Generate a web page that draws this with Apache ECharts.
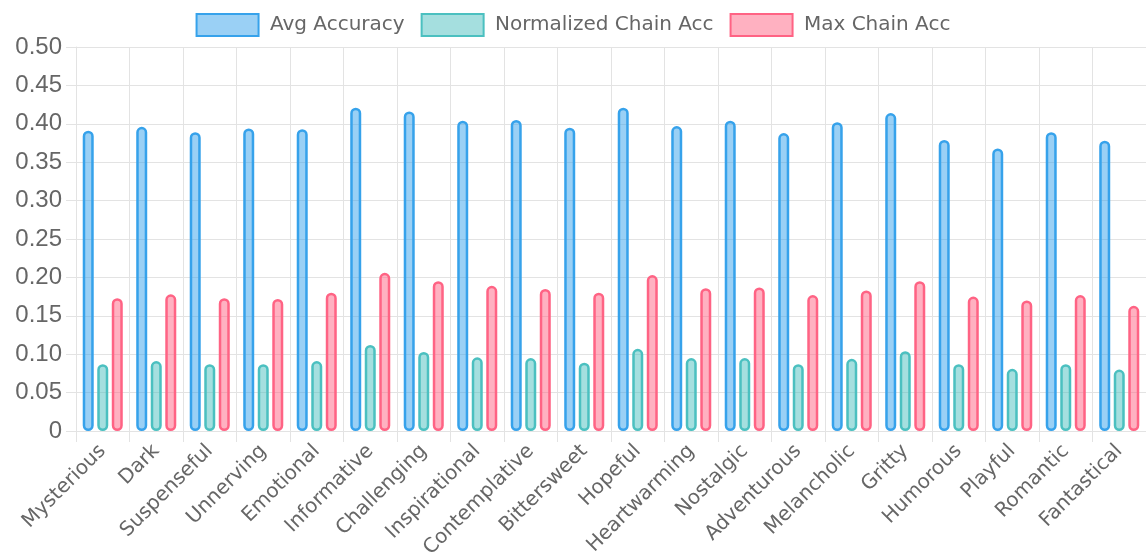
<!DOCTYPE html>
<html>
<head>
<meta charset="utf-8">
<script src="https://cdn.jsdelivr.net/npm/echarts@6/dist/echarts.min.js"></script>
<style>
html,body{margin:0;padding:0;background:#fff;}
#chart{width:1146px;height:559px;}
</style>
</head>
<body>
<div id="chart"></div>
<script>
var categories = ["Mysterious","Dark","Suspenseful","Unnerving","Emotional","Informative","Challenging","Inspirational","Contemplative","Bittersweet","Hopeful","Heartwarming","Nostalgic","Adventurous","Melancholic","Gritty","Humorous","Playful","Romantic","Fantastical"];
var avgAccuracy = [0.391,0.396,0.389,0.394,0.393,0.421,0.416,0.404,0.405,0.395,0.421,0.397,0.404,0.388,0.402,0.414,0.379,0.368,0.389,0.378];
var normalizedChainAcc = [0.087,0.091,0.087,0.087,0.091,0.112,0.103,0.096,0.095,0.089,0.107,0.095,0.095,0.087,0.094,0.104,0.087,0.081,0.087,0.080];
var maxChainAcc = [0.173,0.178,0.173,0.172,0.180,0.206,0.195,0.189,0.185,0.180,0.203,0.186,0.187,0.177,0.183,0.195,0.175,0.170,0.177,0.163];
var seriesNames = ["Avg Accuracy","Normalized Chain Acc","Max Chain Acc"];

var casual = '"Comic Sans MS","DejaVu Sans",sans-serif';
var gridColor = '#e3e3e3';

function barSeries(name, data, fill, border) {
  return {
    name: name,
    type: 'bar',
    data: data,
    barWidth: 11,
    barGap: '32%',
    itemStyle: {
      color: fill,
      borderColor: border,
      borderWidth: 2.5,
      borderRadius: 5.5
    }
  };
}

var chart = echarts.init(document.getElementById('chart'), null, {renderer: 'canvas'});
chart.setOption({
  animation: false,
  legend: {
    top: 8,
    left: 'center',
    itemWidth: 62,
    itemHeight: 22,
    itemGap: 16,
    icon: 'rect',
    formatter: ' {name}',
    textStyle: {color: '#666', fontSize: 20, fontFamily: casual},
    data: seriesNames
  },
  grid: {left: 76, right: 0, top: 47, bottom: 128, containLabel: false, outerBoundsMode: 'none'},
  xAxis: {
    type: 'category',
    data: categories,
    boundaryGap: true,
    axisLine: {show: true, lineStyle: {color: gridColor, width: 1}},
    axisTick: {show: true, length: 11, lineStyle: {color: gridColor}},
    splitLine: {show: true, lineStyle: {color: gridColor, width: 1}},
    axisLabel: {
      interval: 0,
      rotate: 45,
      margin: 17,
      color: '#666',
      fontSize: 20,
      fontFamily: casual
    }
  },
  yAxis: {
    type: 'value',
    min: 0,
    max: 0.5,
    interval: 0.05,
    axisLine: {show: true, lineStyle: {color: gridColor, width: 1}},
    axisTick: {show: true, length: 10, lineStyle: {color: gridColor}},
    splitLine: {show: true, lineStyle: {color: gridColor, width: 1}},
    axisLabel: {
      margin: 14,
      color: '#666',
      fontSize: 24,
      fontFamily: '"Liberation Sans",Arial,sans-serif',
      formatter: function (v) { return v === 0 ? '0' : v.toFixed(2); }
    }
  },
  series: [
    barSeries(seriesNames[0], avgAccuracy, 'rgba(54,162,235,0.5)', '#36A2EB'),
    barSeries(seriesNames[1], normalizedChainAcc, 'rgba(75,192,192,0.5)', '#4BC0C0'),
    barSeries(seriesNames[2], maxChainAcc, 'rgba(255,99,132,0.5)', '#FF6384')
  ]
});
</script>
</body>
</html>
